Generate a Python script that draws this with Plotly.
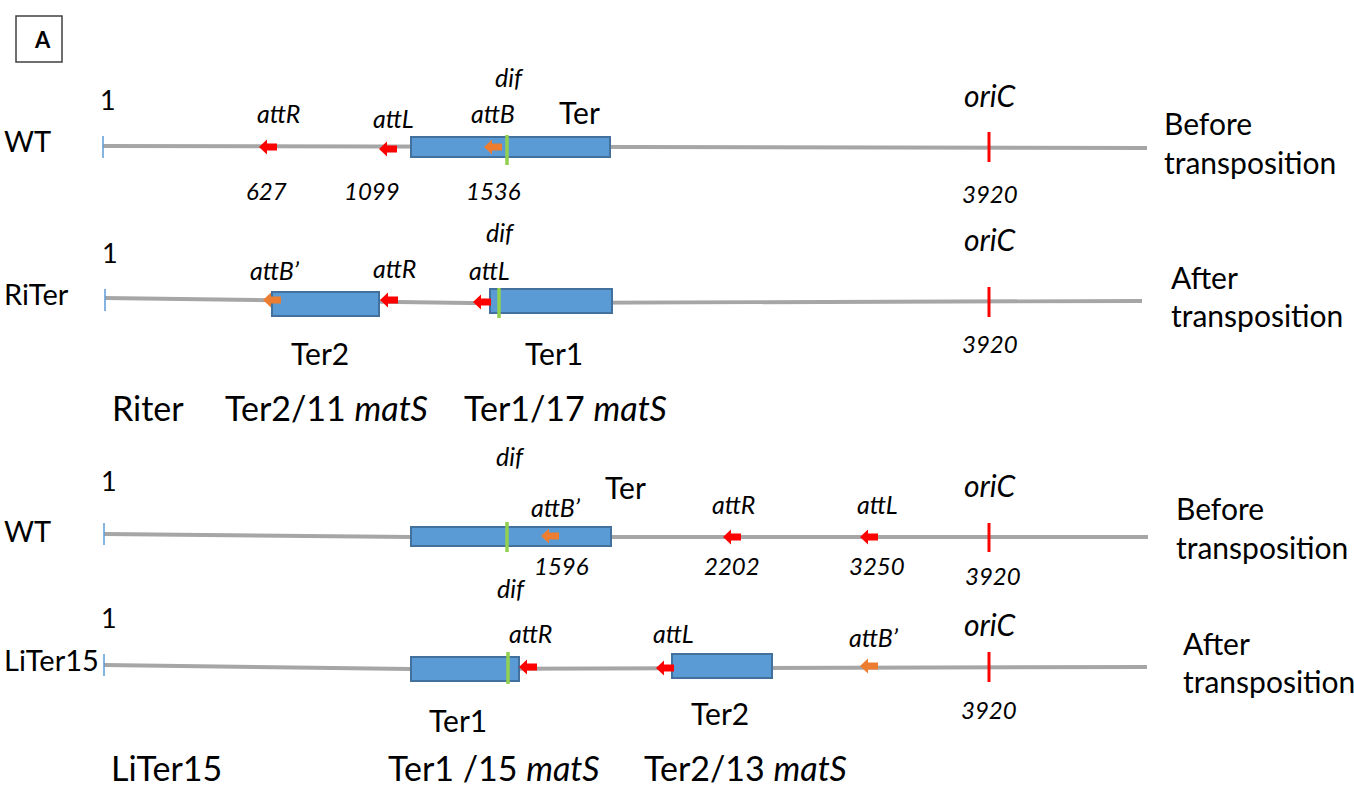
import plotly.graph_objects as go

# ---------------- data (schematic map units) ----------------
row_names = ["WT", "RiTer", "WT", "LiTer15"]
row_name_y = [140, 293, 530, 659]
row_state_1 = ["Before", "After", "Before", "After"]
row_state_2 = ["transposition", "transposition", "transposition", "transposition"]
state_x = [1162, 1169, 1174, 1181]
state_y1 = [123, 277, 508, 643]
state_y2 = [162, 315, 547, 681]

# chromosome line paths (x, y) per row
chrom_x = [[103, 1147], [105, 470, 1142], [104, 411, 1148], [104, 411, 1147]]
chrom_y = [[146, 148], [298, 303, 301], [534, 537, 537], [665, 669, 667]]
start_y = [147, 300, 534, 665]
one_y = [99, 252, 480, 617]

# Ter domains: x0, x1, y0, y1, label, label x, label y
ter_x0 = [411, 272, 490, 411, 411, 672]
ter_x1 = [610, 379, 612, 611, 519, 772]
ter_y0 = [137, 292, 289, 527, 657, 654]
ter_y1 = [157, 316, 313, 546, 681, 678]
ter_lab = ["Ter", "Ter2", "Ter1", "Ter", "Ter1", "Ter2"]
ter_lab_x = [579, 320, 554, 625, 458, 720]
ter_lab_y = [112, 353, 353, 487, 720, 713]

# att sites (arrows pointing left)
att_tip = [259, 379, 484, 263, 380, 473, 541, 723, 860, 519, 656, 860]
att_y = [147, 149, 147, 300, 300, 302, 536, 537, 537, 667, 668, 666]
att_kind = ["R", "R", "O", "O", "R", "R", "O", "R", "R", "R", "R", "O"]
att_lab = ["attR", "attL", "attB", "attB’", "attR", "attL", "attB’", "attR", "attL", "attR", "attL", "attB’"]
att_lab_x = [278, 393, 493, 275, 394, 489, 556, 733, 877, 530, 673, 874]
att_lab_y = [113, 118, 113, 270, 268, 270, 507, 504, 504, 633, 633, 637]

# coordinates (kb) printed under sites
coord_val = ["627", "1099", "1536", "1596", "2202", "3250"]
coord_x = [266, 372, 493, 561, 732, 877]
coord_y = [190, 190, 190, 565, 565, 565]

# dif sites
dif_x = [507, 499, 507, 508]
dif_y0 = [135, 288, 522, 652]
dif_y1 = [165, 318, 552, 684]
dif_lab_x = [509, 500, 510, 511]
dif_lab_y = [77, 232, 456, 588]

# oriC
ori_x = [989, 989, 989, 989]
ori_y0 = [132, 287, 523, 652]
ori_y1 = [162, 317, 552, 682]
ori_lab_y = [95, 239, 485, 624]
ori_val = ["3920", "3920", "3920", "3920"]
ori_val_x = [990, 990, 993, 989]
ori_val_y = [193, 343, 575, 709]

# captions
cap_text = ["Riter", "Ter2/11 <i>matS</i>", "Ter1/17 <i>matS</i>",
            "LiTer15", "Ter1 /15 <i>matS</i>", "Ter2/13 <i>matS</i>"]
cap_x = [148, 326, 565, 166, 494, 745]
cap_y = [407, 407, 407, 767, 767, 767]

# ---------------- styles ----------------
FONT = "Lato, Carlito, 'Open Sans', sans-serif"
GRAY = "#a6a6a6"
BLUE = "#5b9bd5"
BLUE_EDGE = "#41719c"
RED = "#ff0000"
ORANGE = "#ed7d31"
GREEN = "#92d050"
colors = {"R": RED, "O": ORANGE}

fig = go.Figure()
shapes = []
ann = []

def add_text(x, y, text, size, italic=False, xanchor="center", bold=False):
    t = text
    if italic:
        t = "<i>" + t + "</i>"
    if bold:
        t = "<b>" + t + "</b>"
    ann.append(dict(x=x, y=y, xref="x", yref="y", text=t, showarrow=False,
                    xanchor=xanchor, yanchor="middle",
                    font=dict(family=FONT, size=size, color="black")))

# chromosome lines
for i in range(len(row_names)):
    fig.add_trace(go.Scatter(x=chrom_x[i], y=chrom_y[i], mode="lines",
                             line=dict(color=GRAY, width=4), hoverinfo="skip",
                             showlegend=False))
    shapes.append(dict(type="line", xref="x", yref="y", x0=chrom_x[i][0], x1=chrom_x[i][0],
                       y0=start_y[i] - 11, y1=start_y[i] + 11,
                       line=dict(color=BLUE, width=1.5)))
    add_text(chrom_x[i][0] + 5, one_y[i], "1", 27)
    add_text(2, row_name_y[i], row_names[i], 29, xanchor="left")
    add_text(state_x[i], state_y1[i], row_state_1[i], 30, xanchor="left")
    add_text(state_x[i], state_y2[i], row_state_2[i], 30, xanchor="left")

# Ter boxes
for i in range(len(ter_lab)):
    shapes.append(dict(type="rect", xref="x", yref="y", x0=ter_x0[i], x1=ter_x1[i],
                       y0=ter_y0[i], y1=ter_y1[i], fillcolor=BLUE,
                       line=dict(color=BLUE_EDGE, width=2), layer="above"))
    add_text(ter_lab_x[i], ter_lab_y[i], ter_lab[i], 30)

# dif
for i in range(len(dif_x)):
    shapes.append(dict(type="line", xref="x", yref="y", x0=dif_x[i], x1=dif_x[i],
                       y0=dif_y0[i], y1=dif_y1[i], line=dict(color=GREEN, width=3.5),
                       layer="above"))
    add_text(dif_lab_x[i], dif_lab_y[i], "dif", 25, italic=True)

# att arrows
for i in range(len(att_tip)):
    t = att_tip[i]
    y = att_y[i]
    px = [t, t + 8, t + 8, t + 18, t + 18, t + 8, t + 8, t]
    py = [y, y - 7.5, y - 3.5, y - 3.5, y + 3.5, y + 3.5, y + 7.5, y]
    path = "M " + " L ".join(f"{a},{b}" for a, b in zip(px, py)) + " Z"
    shapes.append(dict(type="path", xref="x", yref="y", path=path,
                       fillcolor=colors[att_kind[i]], line=dict(width=0), layer="above"))
    add_text(att_lab_x[i], att_lab_y[i], att_lab[i], 25, italic=True)

for i in range(len(coord_val)):
    add_text(coord_x[i], coord_y[i], coord_val[i], 24, italic=True)

# oriC
for i in range(len(ori_x)):
    shapes.append(dict(type="line", xref="x", yref="y", x0=ori_x[i], x1=ori_x[i],
                       y0=ori_y0[i], y1=ori_y1[i], line=dict(color=RED, width=3),
                       layer="above"))
    add_text(ori_x[i] + 1, ori_lab_y[i], "oriC", 30, italic=True)
    add_text(ori_val_x[i], ori_val_y[i], ori_val[i], 24, italic=True)

for i in range(len(cap_text)):
    add_text(cap_x[i], cap_y[i], cap_text[i], 34)

# panel letter
shapes.append(dict(type="rect", xref="x", yref="y", x0=16, x1=62, y0=16, y1=62,
                   line=dict(color="#404040", width=1.5), fillcolor="rgba(0,0,0,0)"))
add_text(42, 39, "A", 22, bold=True)

fig.update_layout(
    width=1354, height=794,
    margin=dict(l=0, r=0, t=0, b=0),
    paper_bgcolor="white", plot_bgcolor="white",
    xaxis=dict(range=[0, 1354], visible=False, fixedrange=True),
    yaxis=dict(range=[794, 0], visible=False, fixedrange=True),
    shapes=shapes, annotations=ann, showlegend=False,
)
fig.write_html("out.html", config={"displayModeBar": False},
               post_script="document.body.style.margin='0px';document.body.style.overflow='hidden';")
